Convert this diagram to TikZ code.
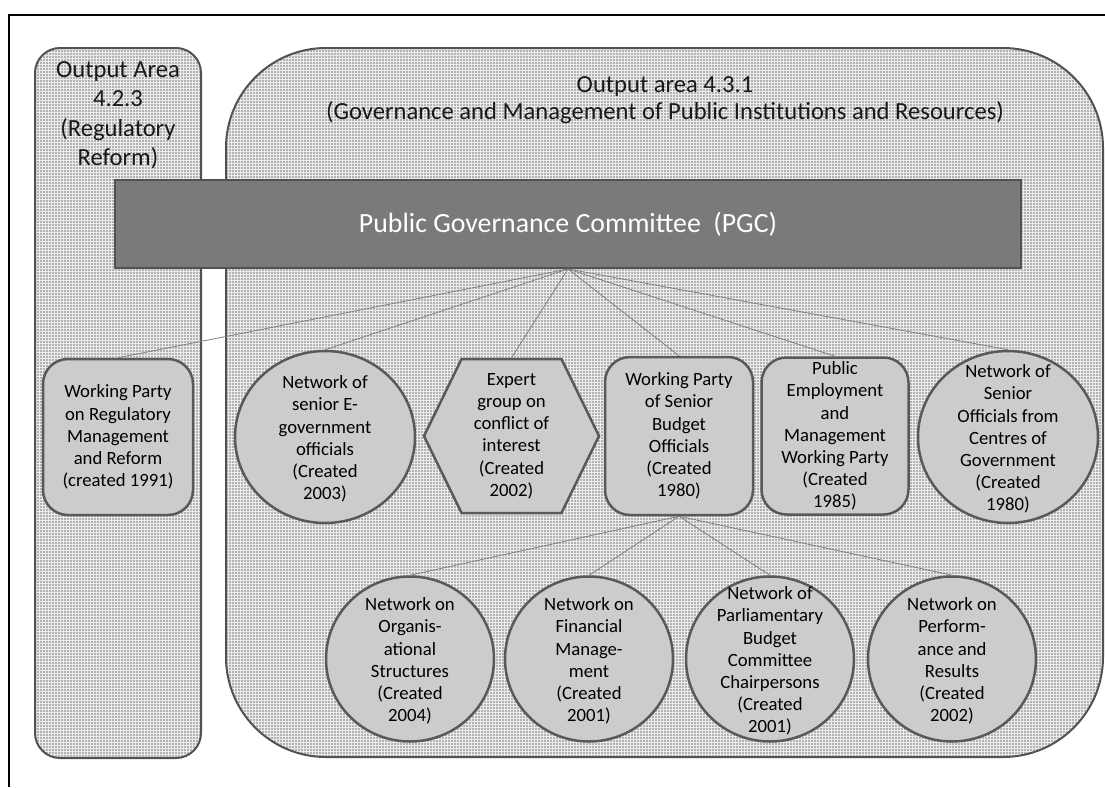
\documentclass[tikz,border=0pt]{standalone}
\usepackage{fontspec}
\setmainfont{Carlito}
\usetikzlibrary{shapes.geometric, shapes.symbols, patterns, positioning}

\begin{document}
\begin{tikzpicture}[x=1pt, y=-1pt]
    % Styles
    \tikzstyle{panel} = [draw=black!68, line width=2pt, preaction={fill=black!30}, pattern=grid, pattern color=black!8]
    \tikzstyle{paneltitle} = [align=center, text=black!90, font=\fontsize{24.6}{29.5}\selectfont]
    \tikzstyle{committee} = [rectangle, draw=black!68, line width=2pt, fill=black!52, text=white, minimum width=906, minimum height=88, font=\fontsize{27.8}{32}\selectfont]
    \tikzstyle{box} = [rectangle, draw=black!65, line width=2.5pt, fill=black!20, rounded corners=25pt, align=center, inner sep=2pt, font=\fontsize{18.7}{22.2}\selectfont]
    \tikzstyle{bigcircle} = [ellipse, draw=black!65, line width=2.5pt, fill=black!20, minimum width=180, minimum height=172]
    \tikzstyle{smallcircle} = [ellipse, draw=black!65, line width=2.5pt, fill=black!20, minimum width=168, minimum height=165]
    \tikzstyle{circletext} = [align=center, inner sep=0pt, font=\fontsize{18.7}{22.2}\selectfont]
    \tikzstyle{hexbox} = [signal, signal to=west and east, signal pointer angle=128, draw=black!65, line width=2.5pt, fill=black!20, minimum width=175, minimum height=154, align=center, inner sep=1pt, font=\fontsize{18.7}{22.2}\selectfont]
    \tikzstyle{link} = [draw=black!50, line width=0.8pt]

    \useasboundingbox (0,0) rectangle (1105,787);

    % Page frame
    \coordinate (frametop) at (1105,15);
    \coordinate (framecorner) at (9,15);
    \coordinate (framebottom) at (9,787);
    \draw[line width=1.5pt] (frametop) -- (framecorner) -- (framebottom);

    % Output areas
    \node[panel, rectangle, rounded corners=25pt, minimum width=166, minimum height=710] (regarea) at (118,403) {};
    \node[paneltitle] (regtitle) at (118,115) {Output Area\\4.2.3\\(Regulatory\\Reform)};
    \node[panel, rectangle, rounded corners=100pt, minimum width=877, minimum height=709] (govarea) at (664.5,402.5) {};
    \node[paneltitle, font=\fontsize{24.6}{27}\selectfont] (govtitle) at (665,100) {Output area 4.3.1\\(Governance and Management of Public Institutions and Resources)};

    % Committee
    \node[committee] (pgc) at (568,224) {Public Governance Committee~~(PGC)};

    % Working parties and networks
    \node[box, minimum width=150, minimum height=156] (wpreg) at (118,437) {Working Party\\on Regulatory\\Management\\and Reform\\(created 1991)};
    \node[bigcircle] (egov) at (325,437) {};
    \node[circletext] (egovtext) at (325,439) {Network of\\senior E-\\government\\officials\\(Created\\2003)};
    \node[hexbox] (expert) at (511.5,436) {Expert\\group on\\conflict of\\interest\\(Created\\2002)};
    \node[box, minimum width=148, minimum height=158] (wpbud) at (679,436) {Working Party\\of Senior\\Budget\\Officials\\(Created\\1980)};
    \node[box, minimum width=147, minimum height=157] (pubemp) at (835,436) {Public\\Employment\\and\\Management\\Working Party\\(Created\\1985)};
    \node[bigcircle] (cog) at (1008,437) {};
    \node[circletext] (cogtext) at (1008,439) {Network of\\Senior\\Officials from\\Centres of\\Government\\(Created\\1980)};

    % Budget networks
    \node[smallcircle] (orgstr) at (410,659) {};
    \node[circletext] (orgstrtext) at (410,661) {Network on\\Organis-\\ational\\Structures\\(Created\\2004)};
    \node[smallcircle] (finman) at (589,659) {};
    \node[circletext] (finmantext) at (589,661) {Network on\\Financial\\Manage-\\ment\\(Created\\2001)};
    \node[smallcircle] (parl) at (770,659) {};
    \node[circletext] (parltext) at (770,661) {Network of\\Parliamentary\\Budget\\Committee\\Chairpersons\\(Created\\2001)};
    \node[smallcircle] (perf) at (952,659) {};
    \node[circletext] (perftext) at (952,661) {Network on\\Perform-\\ance and\\Results\\(Created\\2002)};

    % Links
    \draw[link] (pgc.south) -- (wpreg.north);
    \draw[link] (pgc.south) -- (egov.north);
    \draw[link] (pgc.south) -- (expert.north);
    \draw[link] (pgc.south) -- (wpbud.north);
    \draw[link] (pgc.south) -- (pubemp.north);
    \draw[link] (pgc.south) -- (cog.north);
    \draw[link] (wpbud.south) -- (orgstr.north);
    \draw[link] (wpbud.south) -- (finman.north);
    \draw[link] (wpbud.south) -- (parl.north);
    \draw[link] (wpbud.south) -- (perf.north);
\end{tikzpicture}
\end{document}
